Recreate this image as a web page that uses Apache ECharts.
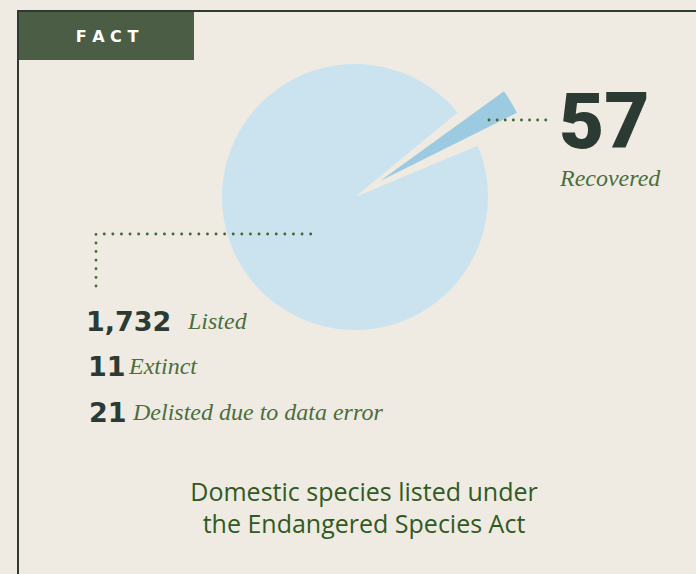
<!DOCTYPE html>
<html><head><meta charset="utf-8">
<script src="https://cdn.jsdelivr.net/npm/echarts@6/dist/echarts.min.js"></script>
<style>html,body{margin:0;padding:0;background:#efebe3;} #c{width:696px;height:574px;}</style>
</head><body><div id="c"></div>
<script>
// ---- data ----
const categories = ['Listed', 'Recovered', 'Extinct', 'Delisted due to data error'];
const values = [1732, 57, 11, 21];
const captionLines = ['Domestic species listed under', 'the Endangered Species Act'];
const badge = 'FACT';

// ---- styles ----
const BG = '#efebe3', FRAME = '#2d3a31', BOX = '#4b5d45';
const PIE_LIGHT = '#cbe3ef', PIE_DARK = '#9ccae0';
const NUM = '#2b3a33', GREEN = '#4a6e3c', DOT = '#3f6a35', CAPTION = '#2f5a22';
const GAP_DEG = 16.8;      // opening in the main pie
const SLICE_DEG = 9.4;     // drawn span of the exploded slice

const listed = values[0], recovered = values[1];
const mainValue = listed - recovered;
const gapValue = mainValue * GAP_DEG / (360 - GAP_DEG);
const fillerValue = recovered * (360 / SLICE_DEG - 1);
const fmt = v => v.toLocaleString('en-US');

const chart = echarts.init(document.getElementById('c'), null, {renderer: 'svg'});
const none = {color: 'transparent'};
const numFont = 'bold 27px "DejaVu Sans", sans-serif';
const serifFont = 'italic 24px "Liberation Serif", serif';
const capFont = '25px "Open Sans", sans-serif';

function txt(text, x, y, font, fill, align) {
  return {type: 'text', z: 100, style: {text, x, y, font, fill, textAlign: align || 'left', textVerticalAlign: 'middle'}};
}

chart.setOption({
  backgroundColor: BG,
  animation: false,
  series: [
    {
      type: 'pie', center: [355, 197], radius: 133, startAngle: 22.7, clockwise: true,
      silent: true, label: {show: false}, labelLine: {show: false}, emphasis: {disabled: true},
      data: [
        {name: categories[0], value: mainValue, itemStyle: {color: PIE_LIGHT}},
        {name: 'gap', value: gapValue, itemStyle: none}
      ]
    },
    {
      type: 'pie', center: [380, 181], radius: 153, startAngle: 35.9, clockwise: true,
      silent: true, label: {show: false}, labelLine: {show: false}, emphasis: {disabled: true},
      data: [
        {name: categories[1], value: recovered, itemStyle: {color: PIE_DARK}},
        {name: 'rest', value: fillerValue, itemStyle: none}
      ]
    }
  ],
  graphic: [
    {type: 'rect', z: 50, shape: {x: 17, y: 10, width: 679, height: 2}, style: {fill: FRAME}},
    {type: 'rect', z: 50, shape: {x: 17, y: 10, width: 2, height: 564}, style: {fill: FRAME}},
    {type: 'rect', z: 50, shape: {x: 19, y: 12, width: 175, height: 48}, style: {fill: BOX}},
    txt(badge.split('').join(' '), 107, 36, 'bold 16px "DejaVu Sans", sans-serif', '#ffffff', 'center'),
    {type: 'polyline', z: 100, shape: {points: [[96, 286], [96, 234], [312, 234]]},
      style: {stroke: DOT, lineWidth: 2.8, lineDash: [0.1, 8.5], lineCap: 'round', fill: null}},
    {type: 'polyline', z: 100, shape: {points: [[489, 120], [552, 120]]},
      style: {stroke: DOT, lineWidth: 2.8, lineDash: [0.1, 8], lineCap: 'round', fill: null}},
    txt(fmt(recovered), 559, 121, '900 78px Roboto, sans-serif', NUM),
    txt(categories[1], 560, 178, serifFont, GREEN),
    txt(fmt(values[0]), 86, 321, numFont, NUM),
    txt(categories[0], 188, 321, serifFont, GREEN),
    txt(fmt(values[2]), 88, 366, numFont, NUM),
    txt(categories[2], 129, 366, serifFont, GREEN),
    txt(fmt(values[3]), 89, 412, numFont, NUM),
    txt(categories[3], 133, 412, serifFont, GREEN),
    txt(captionLines[0], 364, 491, capFont, CAPTION, 'center'),
    txt(captionLines[1], 364, 523, capFont, CAPTION, 'center')
  ]
});
</script></body></html>
